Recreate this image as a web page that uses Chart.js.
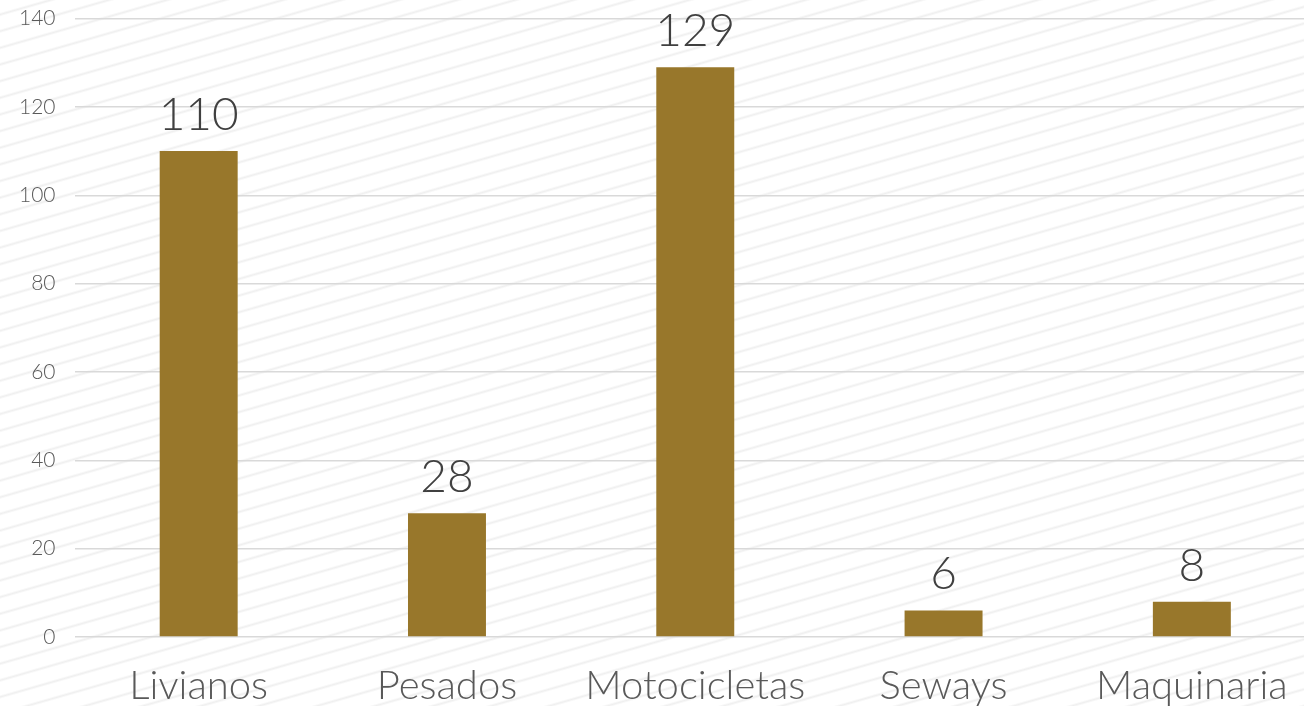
<!DOCTYPE html>
<html><head><meta charset="utf-8">
<script src="https://cdn.jsdelivr.net/npm/chart.js@4"></script>
<style>
html,body{margin:0;padding:0;overflow:hidden;width:1304px;height:706px;}
body{background-color:#fff;background-image:repeating-linear-gradient(164deg,#ffffff 0px,#ffffff 12px,#efefef 14px,#ffffff 16px);}
#wrap{position:absolute;left:0;top:-13px;width:1316px;height:740px;}
</style></head>
<body><div id="wrap"><canvas id="c"></canvas></div>
<script>
const categories = ["Livianos","Pesados","Motocicletas","Seways","Maquinaria"];
const values = [110,28,129,6,8];
const yTicks = [0,20,40,60,80,100,120,140];

const FONT = "Lato, 'Open Sans', sans-serif";
const labelPlugin = {
  id:'barLabels',
  afterDatasetsDraw(chart){
    const ctx = chart.ctx;
    const meta = chart.getDatasetMeta(0);
    ctx.save();
    ctx.font = "300 46px " + FONT;
    ctx.fillStyle = "#404040";
    ctx.textAlign = "center";
    ctx.textBaseline = "alphabetic";
    meta.data.forEach((bar,i)=>{
      ctx.fillText(String(values[i]), bar.x, bar.y - 21);
    });
    ctx.restore();
  }
};

new Chart(document.getElementById('c'),{
  type:'bar',
  data:{labels:categories,datasets:[{data:values,backgroundColor:'#98772B',barPercentage:0.314,categoryPercentage:1}]},
  options:{
    responsive:true,maintainAspectRatio:false,animation:false,
    layout:{padding:{top:0,left:0,right:0,bottom:0}},
    plugins:{legend:{display:false},tooltip:{enabled:false}},
    scales:{
      x:{grid:{display:false},border:{display:false},
        ticks:{color:'#595959',font:{family:FONT,size:40,weight:'300',lineHeight:1.0},padding:21}},
      y:{min:0,max:140,afterBuildTicks(ax){ax.ticks=yTicks.map(v=>({value:v}));},
        grid:{color:'#d9d9d9',lineWidth:1.5,drawTicks:false},border:{display:false},
        ticks:{color:'#595959',font:{family:FONT,size:21,weight:'300'},padding:19}}
    }
  },
  plugins:[labelPlugin]
});
</script></body></html>
